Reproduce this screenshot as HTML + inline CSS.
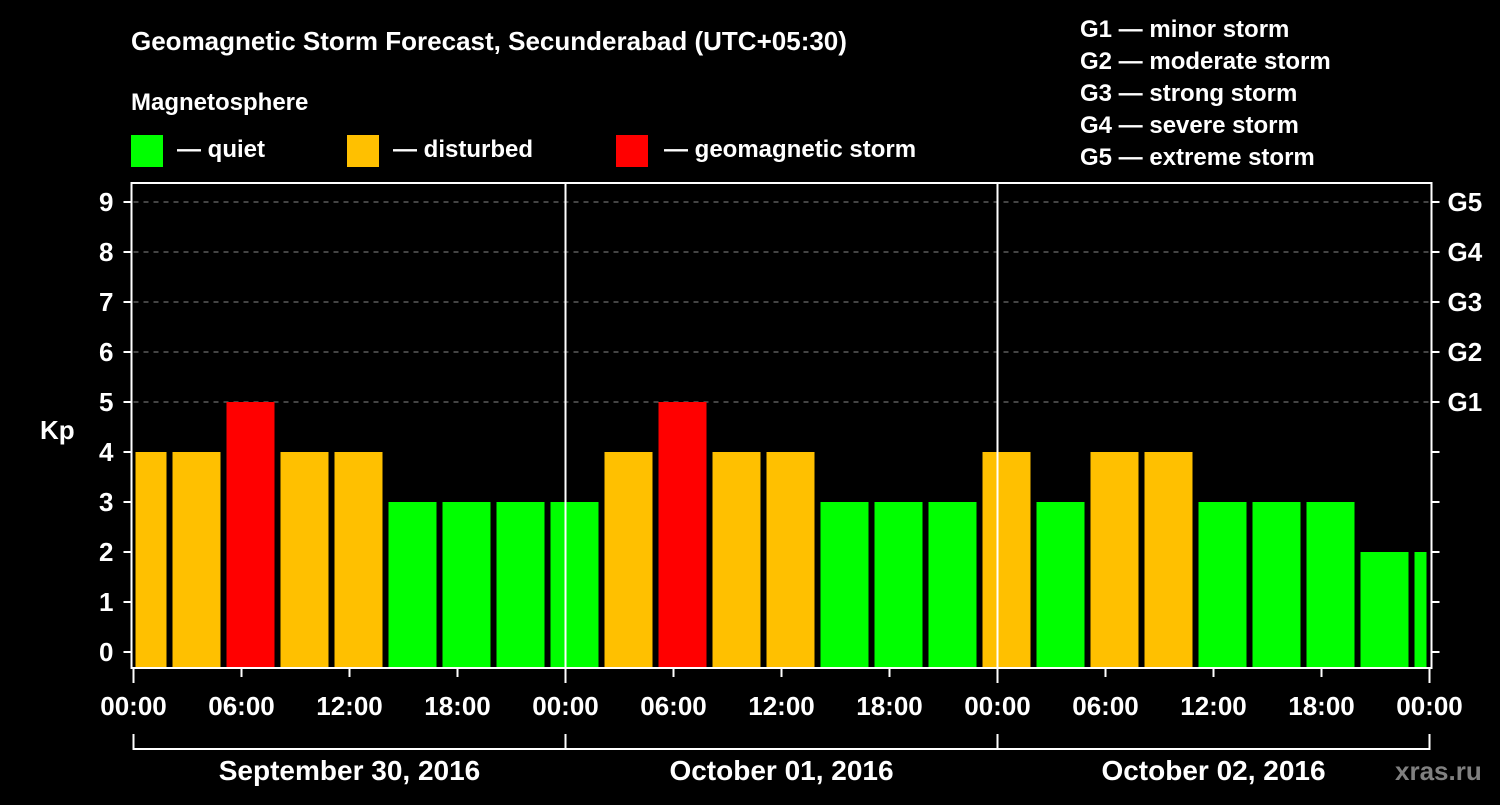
<!DOCTYPE html>
<html><head><meta charset="utf-8"><style>
body{margin:0;background:#000;width:1500px;height:800px;overflow:hidden;font-family:"Liberation Sans",sans-serif;font-weight:bold;color:#fff}
svg text{font-family:"Liberation Sans",sans-serif;font-weight:bold;fill:#fff}
</style></head><body>
<svg id="chart" width="1500" height="800" xmlns="http://www.w3.org/2000/svg">
<text x="131" y="50" font-size="26">Geomagnetic Storm Forecast, Secunderabad (UTC+05:30)</text>
<text x="131" y="110" font-size="24">Magnetosphere</text>
<g><rect x="131" y="135" width="32" height="32" fill="#00ff00"/><text x="177" y="157" font-size="24">— quiet</text></g>
<g><rect x="347" y="135" width="32" height="32" fill="#ffc000"/><text x="393" y="157" font-size="24">— disturbed</text></g>
<g><rect x="616" y="135" width="32" height="32" fill="#ff0000"/><text x="664" y="157" font-size="24">— geomagnetic storm</text></g>
<g font-size="24">
<text x="1080" y="37">G1 — minor storm</text>
<text x="1080" y="69">G2 — moderate storm</text>
<text x="1080" y="101">G3 — strong storm</text>
<text x="1080" y="133">G4 — severe storm</text>
<text x="1080" y="165">G5 — extreme storm</text>
</g>
<text x="40" y="439" font-size="26">Kp</text>
<text x="1395" y="780" font-size="26" fill="#808080" style="fill:#808080">xras.ru</text>
<g id="grid"></g><g id="bars"></g><g id="axes"></g>
</svg>
<script>
const kpValues=[4,4,5,4,4,3,3,3,3,4,5,4,4,3,3,3,4,3,4,4,3,3,3,2,2];
const yTicks=[0,1,2,3,4,5,6,7,8,9];
const gLabels=["G1","G2","G3","G4","G5"];
const xTickLabels=["00:00","06:00","12:00","18:00","00:00","06:00","12:00","18:00","00:00","06:00","12:00","18:00","00:00"];
const dayLabels=["September 30, 2016","October 01, 2016","October 02, 2016"];
const NS="http://www.w3.org/2000/svg";
const X0=133.5,PXH=18,XEND=X0+72*PXH,TOP=183,BOT=668;
const xs=h=>X0+h*PXH, ys=v=>652-v*50;
function mk(t,a,p){const e=document.createElementNS(NS,t);for(const k in a)e.setAttribute(k,a[k]);document.getElementById(p).appendChild(e);return e;}
yTicks.forEach(v=>{if(v>=5){const l=mk('line',{x1:X0,x2:XEND,y1:ys(v),y2:ys(v),stroke:'#888','stroke-dasharray':'5,5','stroke-width':1},'grid');

}});
kpValues.forEach((v,i)=>{let s=xs(-1+3*i)+3,e=xs(2+3*i)-3;s=Math.max(s,X0+2);e=Math.min(e,XEND-3);
const c=v>=5?'#ff0000':v>=4?'#ffc000':'#00ff00';
const r=mk('rect',{x:s,y:ys(v),width:e-s,height:BOT-ys(v),fill:c},'bars');

});
const fr=mk('rect',{x:X0-2,y:TOP,width:XEND-X0+4,height:BOT-TOP,fill:'none',stroke:'#fff','stroke-width':2},'axes');


[1,2].forEach(d=>{const l=mk('line',{x1:xs(24*d),x2:xs(24*d),y1:TOP,y2:BOT,stroke:'#fff','stroke-width':2},'axes');

});
yTicks.forEach(v=>{mk('line',{x1:X0-10,x2:X0-2,y1:ys(v),y2:ys(v),stroke:'#fff','stroke-width':2},'axes');
mk('line',{x1:XEND+2,x2:XEND+10,y1:ys(v),y2:ys(v),stroke:'#fff','stroke-width':2},'axes');
const t=mk('text',{x:X0-20,y:ys(v)+9,'font-size':26,'text-anchor':'end'},'axes');t.textContent=v;

});
gLabels.forEach((g,i)=>{const t=mk('text',{x:XEND+18,y:ys(5+i)+9,'font-size':26},'axes');t.textContent=g;

});
xTickLabels.forEach((lb,i)=>{const x=xs(6*i);const big=i%4===0;
mk('line',{x1:x,x2:x,y1:BOT+1,y2:BOT+(big?15:9),stroke:'#fff','stroke-width':2},'axes');
const t=mk('text',{x:x,y:715,'font-size':26,'text-anchor':'middle'},'axes');t.textContent=lb;

});
mk('line',{x1:xs(0),x2:XEND,y1:749,y2:749,stroke:'#fff','stroke-width':2},'axes');
[0,1,2,3].forEach(d=>mk('line',{x1:xs(24*d),x2:xs(24*d),y1:734,y2:750,stroke:'#fff','stroke-width':2},'axes'));
dayLabels.forEach((d,i)=>{const t=mk('text',{x:xs(24*i+12),y:780,'font-size':28,'text-anchor':'middle'},'axes');t.textContent=d;

});
</script>
</body></html>
